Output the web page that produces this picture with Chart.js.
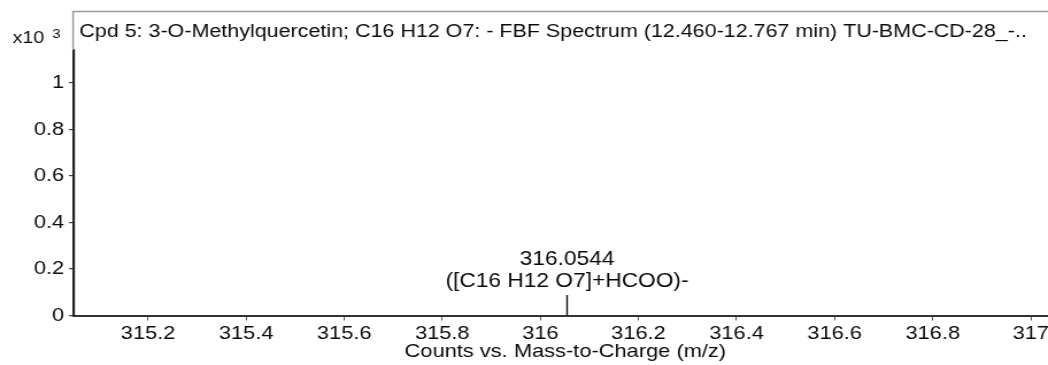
<!DOCTYPE html>
<html>
<head>
<meta charset="utf-8">
<script src="https://cdn.jsdelivr.net/npm/chart.js@4.4.1/dist/chart.umd.min.js"></script>
<style>
html,body{margin:0;padding:0;background:#fff;overflow:hidden;}
#c{display:block;transform:scaleX(1.1491);transform-origin:0 0;}
</style>
</head>
<body>
<canvas id="c" width="912" height="365"></canvas>
<script>
// ---- data ----
const peakMz = [316.0544];
const peakIntensity = [0.088];           // x10^3 counts
const peakLabelLine1 = ['316.0544'];
const peakLabelLine2 = ['([C16 H12 O7]+HCOO)-'];
const xTickValues = [315.2, 315.4, 315.6, 315.8, 316, 316.2, 316.4, 316.6, 316.8, 317];
const yTickValues = [0, 0.2, 0.4, 0.6, 0.8, 1];
const xMin = 315.049, xMax = 317.035;
const yMin = 0, yMax = 1.142;
const titleText = 'Cpd 5: 3-O-Methylquercetin; C16 H12 O7: - FBF Spectrum (12.460-12.767 min) TU-BMC-CD-28_-..';
const xAxisTitle = 'Counts vs. Mass-to-Charge (m/z)';

const FONT = "'Liberation Sans', Arial, sans-serif";
const TEXT = '#0a0a0a';

const stickData = [];
peakMz.forEach((m, i) => {
  stickData.push({x: m, y: 0});
  stickData.push({x: m, y: peakIntensity[i]});
  stickData.push({x: m, y: null});
});

const decor = {
  id: 'decor',
  afterDraw(chart) {
    const ctx = chart.ctx;
    const ca = chart.chartArea;
    const xs = chart.scales.x, ys = chart.scales.y;
    ctx.save();
    // grey frame above plot
    ctx.strokeStyle = '#9a9a9a';
    ctx.lineWidth = 1.5;
    ctx.beginPath();
    ctx.moveTo(ca.left - 0.8, ca.top);
    ctx.lineTo(ca.left - 0.8, 11.5);
    ctx.lineTo(chart.width, 11.5);
    ctx.stroke();
    // title
    ctx.fillStyle = TEXT;
    ctx.textBaseline = 'alphabetic';
    ctx.textAlign = 'left';
    ctx.font = '18.7px ' + FONT;
    ctx.fillText(titleText, 69, 37);
    // x10^3
    ctx.font = '17px ' + FONT;
    ctx.fillText('x10', 11, 43);
    ctx.font = '13px ' + FONT;
    ctx.fillText('3', 45.5, 38);
    // x-axis title
    ctx.font = '19px ' + FONT;
    ctx.textAlign = 'center';
    ctx.fillText(xAxisTitle, 492, 357);
    // peak labels
    peakMz.forEach((m, i) => {
      const px = xs.getPixelForValue(m);
      const py = ys.getPixelForValue(peakIntensity[i]);
      ctx.font = '19.8px ' + FONT;
      ctx.fillText(peakLabelLine2[i], px, py - 8);
      ctx.fillText(peakLabelLine1[i], px, py - 30.5);
    });
    ctx.restore();
  }
};

new Chart(document.getElementById('c'), {
  type: 'line',
  data: {
    datasets: [{
      data: stickData,
      borderColor: '#111',
      borderWidth: 1.4,
      pointRadius: 0,
      spanGaps: false,
      fill: false,
      tension: 0
    }]
  },
  options: {
    responsive: false,
    animation: false,
    events: [],
    layout: {padding: {left: 0, right: 0, top: 50, bottom: 0}},
    plugins: {legend: {display: false}, tooltip: {enabled: false}, title: {display: false}},
    scales: {
      x: {
        type: 'linear',
        min: xMin, max: xMax,
        afterBuildTicks(s) { s.ticks = xTickValues.map(v => ({value: v})); },
        afterFit(s) { s.height = 49.5; s.paddingLeft = 0; s.paddingRight = 0; },
        border: {display: true, color: '#333', width: 2},
        grid: {drawOnChartArea: false, drawTicks: true, tickLength: 5, color: '#555', lineWidth: 1},
        ticks: {
          autoSkip: false, maxRotation: 0, padding: 2,
          color: TEXT,
          font: {family: FONT, size: 19},
          callback: v => String(Math.round(v * 10) / 10)
        }
      },
      y: {
        type: 'linear',
        min: yMin, max: yMax,
        afterBuildTicks(s) { s.ticks = yTickValues.map(v => ({value: v})); },
        afterFit(s) { s.width = 64.4; s.paddingTop = 0; s.paddingBottom = 0; },
        border: {display: true, color: '#222', width: 2.2},
        grid: {drawOnChartArea: false, drawTicks: true, tickLength: 4.5, color: '#444', lineWidth: 1.2},
        ticks: {
          autoSkip: false, padding: 4,
          color: TEXT,
          font: {family: FONT, size: 19},
          callback: v => String(Math.round(v * 10) / 10)
        }
      }
    }
  },
  plugins: [decor]
});
</script>
</body>
</html>
